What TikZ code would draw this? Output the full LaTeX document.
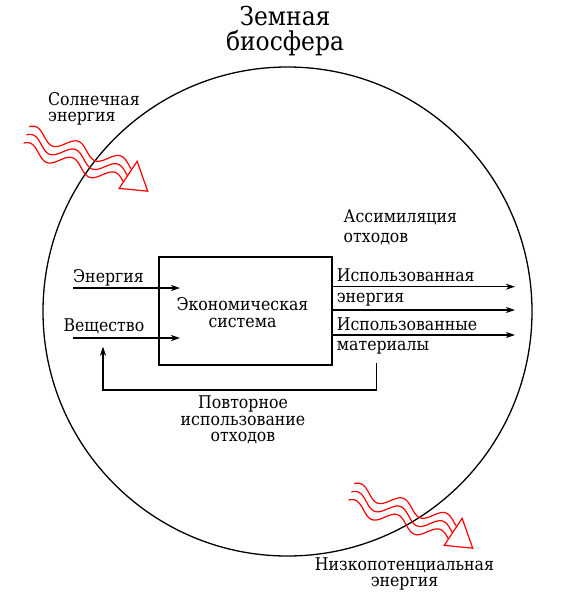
\documentclass[tikz,border=0pt]{standalone}
\usepackage{fontspec}
\setmainfont{DejaVu Serif}[FakeStretch=0.9]
\usetikzlibrary{arrows.meta}
\begin{document}
\begin{tikzpicture}[x=1pt,y=-1pt,
  lbl/.style={font=\fontsize{17.5}{17.5}\selectfont, inner sep=0pt},
  ttl/.style={font=\fontsize{26}{26}\selectfont, inner sep=0pt},
  arr/.style={-{Stealth[length=9pt,width=6pt,inset=2.5pt]}, line width=1.2pt},
  wave/.style={red, line width=1.2pt},
  ln/.style={line width=1.2pt}]
\useasboundingbox (0,0) rectangle (563,600);
\newcommand\wavebundle[2]{%
 \begin{scope}[shift={(#1,#2)}, rotate=-19]
  \foreach \o in {-8.7,0,8.7}{
   \draw[wave] plot[domain=0:110, samples=90, smooth] (\x, {\o - 6.5*sin(8*\x + 42)});
  }
  \draw[wave, fill=white, line join=miter] (113.3,-15.4) -- (133,9.4) -- (105.1,16) -- cycle;
 \end{scope}}
% biosphere
\node[draw, circle, minimum size=489pt, line width=1.3pt, inner sep=0pt] (bio) at (287.5,311.5) {};
\wavebundle{25}{139}
\wavebundle{350}{496}
% title
\node[ttl, anchor=base] (t1) at (285,25) {Земная};
\node[ttl, anchor=base] (t2) at (285,50) {биосфера};
% sun
\node[lbl, anchor=base west] (s1) at (48,105) {Солнечная};
\node[lbl, anchor=base west] (s2) at (48,121) {энергия};
% assimilation
\node[lbl, anchor=base west] (a1) at (343.5,222.7) {Ассимиляция};
\node[lbl, anchor=base west] (a2) at (343.5,242.7) {отходов};
% box
\node[draw, ln, minimum width=173pt, minimum height=108pt, inner sep=0pt] (sys) at (245.5,311) {};
\node[lbl, anchor=base] (b1) at (242.5,310) {Экономическая};
\node[lbl, anchor=base] (b2) at (242.5,327) {система};
% inputs
\node[lbl, anchor=base west] (ie) at (73,282) {Энергия};
\node[lbl, anchor=base west] (im) at (63.3,331) {Вещество};
\coordinate (e0) at (73,288);
\coordinate (e1) at (180,288);
\coordinate (m0) at (73,338);
\coordinate (m1) at (180,338);
\draw[arr] (e0) -- (e1);
\draw[arr] (m0) -- (m1);
% outputs
\coordinate (o1) at (515,286.7);
\coordinate (o2) at (515,310);
\coordinate (o3) at (515,335);
\draw[arr] (sys.east |- o1) -- (o1);
\draw[arr] (sys.east |- o2) -- (o2);
\draw[arr] (sys.east |- o3) -- (o3);
\node[lbl, anchor=base west] (u1) at (336.7,281.7) {Использованная};
\node[lbl, anchor=base west] (u2) at (336.7,302.7) {энергия};
\node[lbl, anchor=base west] (u3) at (336.7,330) {Использованные};
\node[lbl, anchor=base west] (u4) at (336.7,350) {материалы};
% recycling
\coordinate (r0) at (376.7,363);
\coordinate (r1) at (103,346.7);
\draw[arr, line join=miter] (r0) -- (376.7,390) -- (103,390) -- (r1);
\node[lbl, anchor=base] (p1) at (243,408.3) {Повторное};
\node[lbl, anchor=base] (p2) at (243,425) {использование};
\node[lbl, anchor=base] (p3) at (243,441) {отходов};
% low energy
\node[lbl, anchor=base] (n1) at (404.5,570) {Низкопотенциальная};
\node[lbl, anchor=base] (n2) at (404.5,586) {энергия};
\end{tikzpicture}
\end{document}
